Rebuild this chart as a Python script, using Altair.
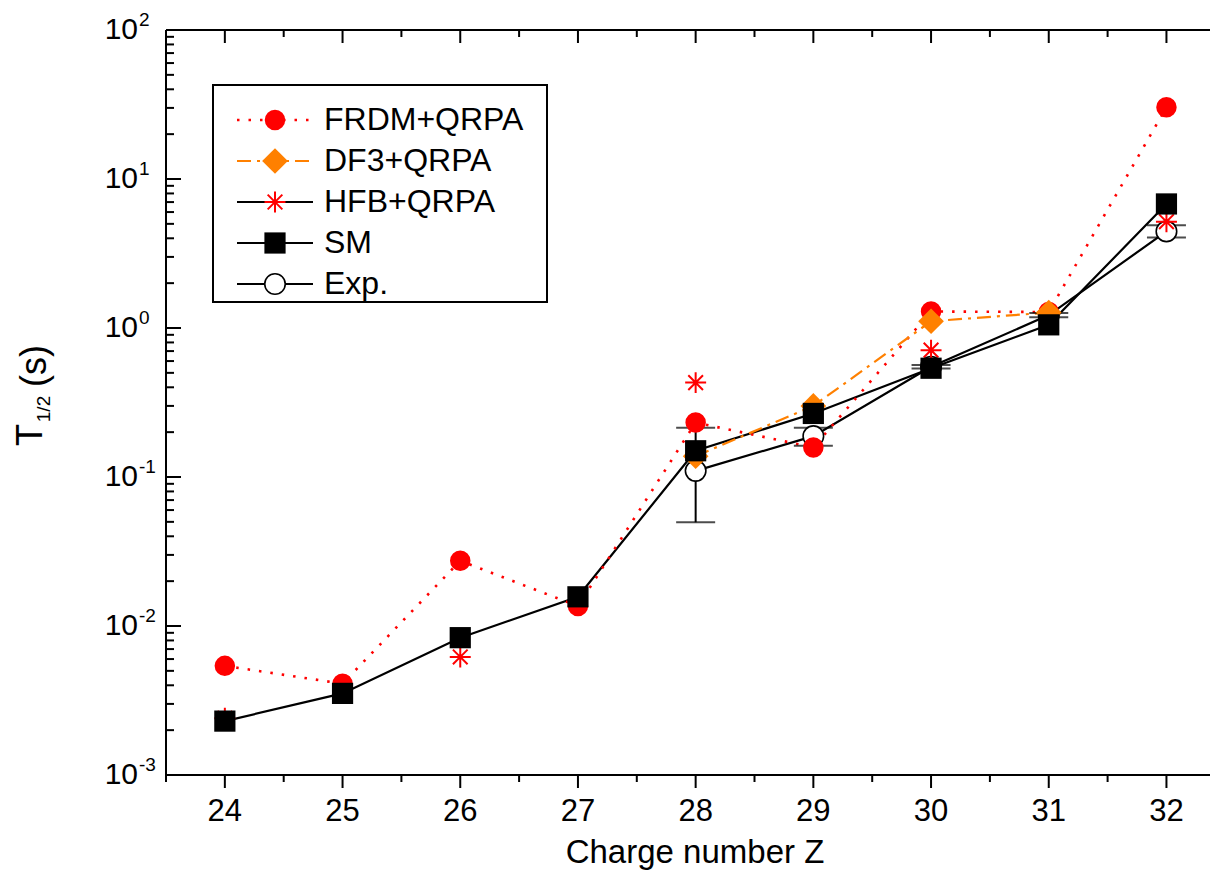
import altair as alt
import pandas as pd

# ---------------- data ----------------
Z_all = [24, 25, 26, 27, 28, 29, 30, 31, 32]
frdm_qrpa = [0.0054, 0.0041, 0.0274, 0.0136, 0.232, 0.158, 1.29, 1.28, 30.3]

Z_df3 = [28, 29, 30, 31]
df3_qrpa = [0.138, 0.30, 1.11, 1.27]

Z_hfb = [24, 26, 28, 30, 32]
hfb_qrpa = [0.0024, 0.0062, 0.43, 0.71, 5.17]

sm = [0.0023, 0.00353, 0.00835, 0.0157, 0.150, 0.267, 0.537, 1.05, 6.8]

Z_exp = [28, 29, 30, 31, 32]
exp_val = [0.110, 0.188, 0.55, 1.22, 4.45]
exp_hi = [0.214, 0.214, 0.565, 1.26, 4.9]
exp_lo = [0.0497, 0.162, 0.535, 1.18, 4.05]

x_ticks = [24, 25, 26, 27, 28, 29, 30, 31, 32]
x_tick_labels = ["24", "25", "26", "27", "28", "29", "30", "31", "32"]
x_minor = [23.5, 24.5, 25.5, 26.5, 27.5, 28.5, 29.5, 30.5, 31.5]
y_decades = [1e-3, 1e-2, 1e-1, 1e0, 1e1, 1e2]
y_exponents = ["-3", "-2", "-1", "0", "1", "2"]
y_minor = [m * d for d in [1e-3, 1e-2, 1e-1, 1e0, 1e1] for m in range(2, 10)]

legend_labels = ["FRDM+QRPA", "DF3+QRPA", "HFB+QRPA", "SM", "Exp."]
x_title = "Charge number Z"

# ---------------- layout constants ----------------
W, H = 1044, 745
FONT = "Liberation Sans"
RED = "#ff0000"
ORANGE = "#ff8000"
xs = alt.Scale(domain=[23.5, 23.5 + W / 117.7], nice=False, zero=False)
ys = alt.Scale(type="log", domain=[1e-3, 1e2], nice=False)

ASTER = "M0,-1L0,1M-1,0L1,0M-0.7,-0.7L0.7,0.7M-0.7,0.7L0.7,-0.7"

frdm_df = pd.DataFrame({"Z": Z_all, "T": frdm_qrpa})
df3_df = pd.DataFrame({"Z": Z_df3, "T": df3_qrpa})
hfb_df = pd.DataFrame({"Z": Z_hfb, "T": hfb_qrpa})
sm_df = pd.DataFrame({"Z": Z_all, "T": sm})
exp_df = pd.DataFrame({"Z": Z_exp, "T": exp_val, "hi": exp_hi, "lo": exp_lo})

X = lambda f="Z": alt.X(f"{f}:Q", scale=xs, axis=None)
Y = lambda f="T": alt.Y(f"{f}:Q", scale=ys, axis=None)
one = pd.DataFrame({"a": [0]})

layers = []

# frame: left, top and bottom lines
layers.append(alt.Chart(one).mark_rule(color="black", strokeWidth=2).encode(
    x=alt.value(0), y=alt.value(0), y2=alt.value(H)))
layers.append(alt.Chart(one).mark_rule(color="black", strokeWidth=2).encode(
    x=alt.value(0), x2=alt.value(W), y=alt.value(0)))
layers.append(alt.Chart(one).mark_rule(color="black", strokeWidth=2).encode(
    x=alt.value(0), x2=alt.value(W), y=alt.value(H)))

# top ticks (inward), bottom ticks (outward)
xt_df = pd.DataFrame({"Z": x_ticks, "lab": x_tick_labels})
xm_df = pd.DataFrame({"Z": x_minor})
layers.append(alt.Chart(xt_df).mark_rule(color="black", strokeWidth=2).encode(
    x=X(), y=alt.value(0), y2=alt.value(13)))
layers.append(alt.Chart(xm_df).mark_rule(color="black", strokeWidth=2).encode(
    x=X(), y=alt.value(0), y2=alt.value(7)))
layers.append(alt.Chart(xt_df).mark_rule(color="black", strokeWidth=2).encode(
    x=X(), y=alt.value(H), y2=alt.value(H + 13)))
layers.append(alt.Chart(xm_df).mark_rule(color="black", strokeWidth=2).encode(
    x=X(), y=alt.value(H), y2=alt.value(H + 7)))
# x tick labels and title
layers.append(alt.Chart(xt_df).mark_text(font=FONT, fontSize=31, align="center", baseline="middle", color="black").encode(
    x=X(), y=alt.value(H + 37), text="lab:N"))
layers.append(alt.Chart(one).mark_text(font=FONT, fontSize=33, align="center", baseline="middle", color="black").encode(
    x=alt.value(529), y=alt.value(H + 78), text=alt.value(x_title)))

# left ticks (inward)
layers.append(alt.Chart(pd.DataFrame({"T": y_decades})).mark_rule(color="black", strokeWidth=2).encode(
    y=Y(), x=alt.value(0), x2=alt.value(15)))
layers.append(alt.Chart(pd.DataFrame({"T": y_minor})).mark_rule(color="black", strokeWidth=2).encode(
    y=Y(), x=alt.value(0), x2=alt.value(8)))

# y tick labels: "10" + superscript exponent
ylab_df = pd.DataFrame({"T": y_decades, "e": y_exponents})
layers.append(alt.Chart(ylab_df).mark_text(font=FONT, fontSize=30, align="right", baseline="middle", color="black").encode(
    y=Y(), x=alt.value(-28), text=alt.value("10")))
layers.append(alt.Chart(ylab_df).mark_text(font=FONT, fontSize=19, align="left", baseline="middle", dy=-10, color="black").encode(
    y=Y(), x=alt.value(-27), text="e:N"))

# y title: T_{1/2} (s)
layers.append(alt.Chart(one).mark_text(font=FONT, fontSize=36, angle=270, align="center", baseline="middle", color="black").encode(
    x=alt.value(31 - 166), y=alt.value(435 - 30), text=alt.value("T")))
layers.append(alt.Chart(one).mark_text(font=FONT, fontSize=19, angle=270, align="center", baseline="middle", color="black").encode(
    x=alt.value(44 - 166), y=alt.value(409 - 30), text=alt.value("1/2")))
layers.append(alt.Chart(one).mark_text(font=FONT, fontSize=36, angle=270, align="center", baseline="middle", color="black").encode(
    x=alt.value(35 - 166), y=alt.value(366 - 30), text=alt.value("(s)")))

# ---------------- series lines ----------------
layers.append(alt.Chart(exp_df).mark_line(color="black", strokeWidth=2.2).encode(x=X(), y=Y()))
layers.append(alt.Chart(sm_df).mark_line(color="black", strokeWidth=2.2).encode(x=X(), y=Y()))
layers.append(alt.Chart(frdm_df).mark_line(color=RED, strokeWidth=2.6, strokeDash=[2.5, 9]).encode(x=X(), y=Y()))
layers.append(alt.Chart(df3_df).mark_line(color=ORANGE, strokeWidth=2.2, strokeDash=[14, 6, 3, 6]).encode(x=X(), y=Y()))

# error bars for Exp
layers.append(alt.Chart(exp_df).mark_rule(color="black", strokeWidth=2).encode(x=X(), y=Y("lo"), y2="hi:Q"))
layers.append(alt.Chart(exp_df).mark_tick(color="black", thickness=2, size=39, orient="horizontal").encode(x=X(), y=Y("hi")))
layers.append(alt.Chart(exp_df).mark_tick(color="black", thickness=2, size=39, orient="horizontal").encode(x=X(), y=Y("lo")))

# ---------------- markers ----------------
CIRC = 420
layers.append(alt.Chart(exp_df).mark_point(shape="circle", size=CIRC, filled=True, fill="white", stroke="black", strokeWidth=1.6, opacity=1).encode(x=X(), y=Y()))
layers.append(alt.Chart(frdm_df).mark_point(shape="circle", size=CIRC, filled=True, color=RED, opacity=1).encode(x=X(), y=Y()))
layers.append(alt.Chart(df3_df).mark_point(shape="diamond", size=660, filled=True, color=ORANGE, opacity=1).encode(x=X(), y=Y()))
layers.append(alt.Chart(hfb_df).mark_point(shape=ASTER, size=440, filled=False, color=RED, strokeWidth=2, opacity=1).encode(x=X(), y=Y()))
layers.append(alt.Chart(sm_df).mark_point(shape="square", size=450, filled=True, color="black", opacity=1).encode(x=X(), y=Y()))

# ---------------- legend ----------------
LX0, LY0, LX1, LY1 = 47, 55, 381, 272
row_y = [90, 131, 172, 213, 254]
layers.append(alt.Chart(one).mark_rect(fill="white", stroke="black", strokeWidth=2).encode(
    x=alt.value(LX0), x2=alt.value(LX1), y=alt.value(LY0), y2=alt.value(LY1)))
line_styles = [
    dict(color=RED, strokeWidth=2.6, strokeDash=[2.5, 9]),
    dict(color=ORANGE, strokeWidth=2.2, strokeDash=[14, 6, 3, 6]),
    dict(color="black", strokeWidth=2),
    dict(color="black", strokeWidth=2),
    dict(color="black", strokeWidth=2),
]
sym_styles = [
    dict(shape="circle", size=CIRC, filled=True, color=RED),
    dict(shape="diamond", size=660, filled=True, color=ORANGE),
    dict(shape=ASTER, size=440, filled=False, color=RED, strokeWidth=2),
    dict(shape="square", size=450, filled=True, color="black"),
    dict(shape="circle", size=CIRC, filled=True, fill="white", stroke="black", strokeWidth=1.6),
]
for lbl, ry, ls, ss in zip(legend_labels, row_y, line_styles, sym_styles):
    layers.append(alt.Chart(one).mark_rule(**ls).encode(x=alt.value(71), x2=alt.value(147), y=alt.value(ry)))
    layers.append(alt.Chart(one).mark_point(opacity=1, **ss).encode(x=alt.value(109), y=alt.value(ry)))
    layers.append(alt.Chart(one).mark_text(font=FONT, fontSize=32, align="left", baseline="middle", color="black").encode(
        x=alt.value(158), y=alt.value(ry), text=alt.value(lbl)))

chart = alt.layer(*layers).properties(
    width=W, height=H,
    padding={"left": 166, "top": 30, "right": 0, "bottom": 115},
    autosize=alt.AutoSizeParams(type="none"),
    background="white",
).configure_view(stroke=None)

chart.save("out.html", embed_options={"renderer": "svg", "actions": False})
